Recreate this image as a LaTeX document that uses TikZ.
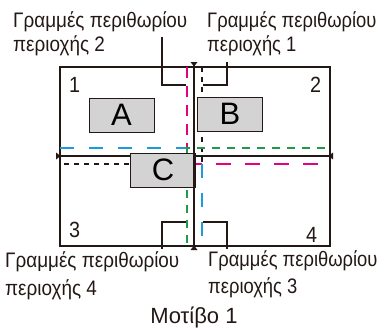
\documentclass[tikz,border=0pt]{standalone}
\usepackage{fontspec}
\setmainfont{Liberation Sans}
\newfontfamily\narrowfont[FakeStretch=0.9]{Liberation Sans}
\newfontfamily\narrowerfont[FakeStretch=0.875]{Liberation Sans}
\definecolor{ink}{RGB}{35,24,21}
\definecolor{boxgray}{RGB}{211,211,212}
\definecolor{mag}{RGB}{228,0,127}
\definecolor{blu}{RGB}{30,155,215}
\definecolor{grn}{RGB}{34,153,68}
\tikzset{
  lbl/.style={font=\narrowfont\fontsize{21}{24}\selectfont, inner sep=0pt, anchor=base west, text=ink},
  lblr/.style={font=\narrowerfont\fontsize{21}{24}\selectfont, inner sep=0pt, anchor=base west, text=ink},
  captext/.style={font=\fontsize{22}{24}\selectfont, inner sep=0pt, anchor=base, text=ink},
  num/.style={font=\narrowfont\fontsize{22}{24}\selectfont, inner sep=0pt, anchor=base west, text=ink},
  letterbox/.style={draw=ink, line width=1pt, fill=boxgray, minimum width=65pt, minimum height=34pt, inner sep=0pt, font=\fontsize{31}{32}\selectfont, text=black},
  frame/.style={draw=ink, line width=2.4pt},
  centerline/.style={draw=ink, line width=2.4pt},
  bracket/.style={draw=ink, line width=2.2pt},
  magdash/.style={draw=mag, line width=2pt, dash pattern=on 11pt off 8pt},
  magdashh/.style={draw=mag, line width=2pt, dash pattern=on 15pt off 14pt},
  bludash/.style={draw=blu, line width=2pt, dash pattern=on 14pt off 15pt},
  grndash/.style={draw=grn, line width=2pt, dash pattern=on 8pt off 7pt},
  blkdot/.style={draw=ink, line width=2pt, dash pattern=on 5pt off 5pt},
  endcap/.style={fill=ink, draw=none}
}
\begin{document}
\begin{tikzpicture}[x=1pt,y=-1pt]
\useasboundingbox (0,0) rectangle (387,329);
% outer frame
\draw[frame] (60,67) rectangle (330,246);
% margin lines
\draw[blkdot] (202,67) -- (202,164) -- (60,164);
\draw[magdash] (187,67) -- (187,164);
\draw[magdashh] (187,164) -- (330,164);
\draw[bludash] (60,148) -- (202,148);
\draw[bludash] (202,164) -- (202,246);
\draw[grndash] (325,148) -- (187,148) -- (187,246);
% center lines
\coordinate (hl) at (56,156);
\coordinate (hr) at (333,156);
\coordinate (vt) at (194,62);
\coordinate (vb) at (194,250);
\draw[centerline] (hl) -- (hr);
% boxes
\node[letterbox] (A) at (121.5,115) {A};
\node[letterbox] (B) at (230,114) {B};
\node[letterbox] (C) at (163,170) {C};
\draw[centerline] (vt) -- (vb);
% end caps
\fill[endcap] (56,152.5) -- (56,159.5) -- (60.5,156) -- cycle;
\fill[endcap] (333,152.5) -- (333,159.5) -- (328.5,156) -- cycle;
\fill[endcap] (190.5,62) -- (197.5,62) -- (194,66.5) -- cycle;
\fill[endcap] (190.5,250) -- (197.5,250) -- (194,245.5) -- cycle;
% region numbers
\node[num] (n1) at (69,92) {1};
\node[num] (n2) at (310,92) {2};
\node[num] (n3) at (69,237) {3};
\node[num] (n4) at (306,242) {4};
% labels
\node[lbl] (t2a) at (13,28) {Γραμμές περιθωρίου};
\node[lbl] (t2b) at (13,52) {περιοχής 2};
\node[lblr] (t1a) at (207,28) {Γραμμές περιθωρίου};
\node[lblr] (t1b) at (207,52) {περιοχής 1};
\node[lbl] (t4a) at (5,267) {Γραμμές περιθωρίου};
\node[lbl] (t4b) at (5,295) {περιοχής 4};
\node[lblr] (t3a) at (208,266) {Γραμμές περιθωρίου};
\node[lblr] (t3b) at (208,293) {περιοχής 3};
\node[captext] (caption) at (194,323) {Μοτίβο 1};
% brackets
\coordinate (b2s) at (162,37);
\coordinate (b2c) at (162,85);
\coordinate (b2e) at (186,85);
\draw[bracket] (b2s) -- (b2c) -- (b2e);
\coordinate (b1s) at (227,62);
\coordinate (b1c) at (227,85);
\coordinate (b1e) at (203,85);
\draw[bracket] (b1s) -- (b1c) -- (b1e);
\coordinate (b4s) at (162,249);
\coordinate (b4c) at (162,222);
\coordinate (b4e) at (186,222);
\draw[bracket] (b4s) -- (b4c) -- (b4e);
\coordinate (b3s) at (227,249);
\coordinate (b3c) at (227,222);
\coordinate (b3e) at (203,222);
\draw[bracket] (b3s) -- (b3c) -- (b3e);
\end{tikzpicture}
\end{document}
